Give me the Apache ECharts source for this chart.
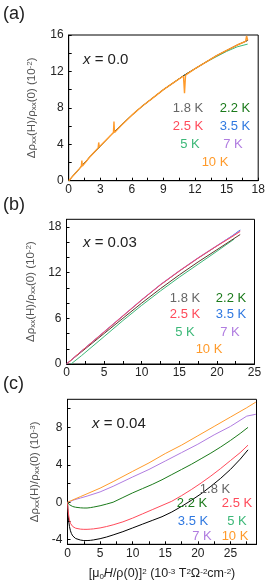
<!DOCTYPE html>
<html><head><meta charset="utf-8">
<script src="https://cdn.jsdelivr.net/npm/echarts@6/dist/echarts.min.js"></script>
<style>html,body{margin:0;padding:0;background:#fff}#c{width:268px;height:584px}</style>
</head><body><div id="c"></div>
<script>
// ---------- data ----------
const tempLabels = ['1.8 K','2.2 K','2.5 K','3.5 K','5 K','7 K','10 K'];
// panel (a) x = 0.0
const aX = [0,1,2,3,4,5,6,7,8,9,10,11,12,13,14,15,16,17];
const aY18 = [0,1.3,2.6,3.8,5.0,6.1,7.2,8.2,9.1,10.0,10.8,11.6,12.3,13.0,13.7,14.3,14.9,15.4];
const aY5  = [0,1.3,2.6,3.8,5.0,6.1,7.2,8.2,9.1,10.0,10.8,11.6,12.3,13.0,13.6,14.2,14.7,15.0];
const aX10 = [0,1,1.2,1.25,1.3,2,2.8,2.85,2.9,3,4,4.25,4.3,4.35,5,6,7,8,9,10,10.9,11.0,11.1,12,13,14,15,16,16.8,16.9,17];
const aY10 = [0,1.3,1.55,2.2,1.6,2.6,3.6,4.2,3.7,3.8,5.0,5.3,6.5,5.3,6.1,7.2,8.2,9.1,10.0,10.8,11.5,9.6,11.6,12.3,13.0,13.7,14.3,14.9,15.3,15.9,15.4];
// panel (b) x = 0.03
const bX = [0,2,5,7.5,10,12.5,15,17.5,20,22,23.1];
const bY18 = [0,1.6,4.0,6.0,8.0,9.9,11.7,13.4,15.0,16.3,17.0];
const bY25 = [0,1.7,4.2,6.3,8.4,10.4,12.2,13.9,15.5,16.7,17.4];
const bY35 = [0,1.7,4.2,6.3,8.4,10.4,12.2,13.9,15.5,16.8,17.6];
const bY7  = [0,1.7,4.25,6.35,8.45,10.45,12.25,13.95,15.55,16.8,17.5];
const bX5 = [0.6,2,5,7.5,10,12.5,15,17.5,20,22.3];
const bY5 = [0,1.1,3.6,5.7,7.7,9.6,11.4,13.1,14.8,16.4];
// panel (c) x = 0.04
const cX = [0,0.05,0.1,0.2,0.3,0.45,0.6,0.8,1,1.25,1.5,2,2.5,3,3.5,4,5,6,7,8.5,10,11.5,13,14.5,16,17.5,19,20.5,22,23.5,25,26.5,27.7];
const cY18 = [0,-0.7,-1.3,-2.1,-2.6,-3.05,-3.35,-3.6,-3.75,-3.88,-3.96,-4.05,-4.1,-4.1,-4.08,-4.03,-3.9,-3.72,-3.5,-3.15,-2.75,-2.35,-1.95,-1.55,-1.05,-0.45,0.2,0.9,1.7,2.55,3.5,4.6,5.6];
const cY25 = [0,-0.5,-0.9,-1.5,-1.9,-2.25,-2.45,-2.6,-2.7,-2.78,-2.83,-2.88,-2.9,-2.9,-2.88,-2.85,-2.75,-2.6,-2.42,-2.1,-1.7,-1.25,-0.8,-0.35,0.1,0.7,1.35,2.05,2.8,3.6,4.45,5.3,6.1];
const cY22 = [0,-0.06,-0.12,-0.2,-0.27,-0.34,-0.4,-0.46,-0.5,-0.54,-0.57,-0.6,-0.62,-0.62,-0.58,-0.52,-0.38,-0.2,0.0,0.5,1.0,1.45,1.9,2.4,2.95,3.5,4.05,4.65,5.25,5.9,6.6,7.35,8.0];
const cX2 = [0,0.5,1,2,3,5,7,10,12.5,15,17.5,20,22.5,25,27.5,28.9];
const cY7  = [0,0.1,0.25,0.45,0.65,1.1,1.7,2.7,3.5,4.4,5.3,6.2,7.2,8.1,9.2,9.4];
const cY10 = [0,0.15,0.3,0.6,0.9,1.5,2.2,3.3,4.2,5.2,6.1,7.1,8.1,9.1,10.1,10.7];

// ---------- styling ----------
const COL = {k:'#000000', g22:'#1b7a1b', r25:'#ff4a5a', b35:'#2f78e0', g5:'#3cb878', p7:'#b07ce0', o10:'#ff9a2a'};
const legendCol = ['#666666',COL.g22,COL.r25,COL.b35,COL.g5,COL.p7,COL.o10];
const FF = "'Liberation Sans', Arial, sans-serif";

function zip(xs, ys){ return xs.map((x,i)=>[x, ys[i]]); }

function xAxis(gi, min, max, labels, minors){
  return {type:'value', gridIndex:gi, min, max,
    axisLine:{onZero:false, lineStyle:{color:'#000', width:1}},
    axisTick:{inside:true, length:3, customValues: labels.concat(minors), lineStyle:{color:'#000'}},
    axisLabel:{customValues: labels, color:'#222', fontSize:12, fontFamily:FF, margin:3},
    splitLine:{show:false}};
}
function yAxis(gi, min, max, labels, minors, exp, gap){
  return {type:'value', gridIndex:gi, min, max,
    axisLine:{onZero:false, lineStyle:{color:'#000', width:1}},
    axisTick:{inside:true, length:3, customValues: labels.concat(minors), lineStyle:{color:'#000'}},
    axisLabel:{customValues: labels, color:'#222', fontSize:12, fontFamily:FF, margin:5},
    splitLine:{show:false},
    name:'Δρ{s|xx}(H)/ρ{s|xx}(0) (10{p|' + exp + '})', nameLocation:'middle', nameRotate:90, nameGap:gap,
    nameTextStyle:{color:'#555', fontSize:11.5, fontFamily:FF,
      rich:{s:{fontSize:8, color:'#555', fontFamily:FF, verticalAlign:'bottom', padding:[4,0,0,0]},
            p:{fontSize:8, color:'#555', fontFamily:FF, verticalAlign:'top', padding:[0,0,4,0]}}}};
}
function line(xi, data, color, z, w){
  return {type:'line', xAxisIndex:xi, yAxisIndex:xi, data, showSymbol:false, symbol:'none',
    lineStyle:{color, width:w||1}, smooth:false, z: z||2, animation:false};
}

const grids = [
  {left:68.7, top:35, width:189.5, height:145.7, show:true, borderColor:'#000', borderWidth:1},
  {left:66.5, top:219.3, width:188, height:144.7, show:true, borderColor:'#000', borderWidth:1},
  {left:67.5, top:399.3, width:189, height:145, show:true, borderColor:'#000', borderWidth:1}
];

const xA = [
  xAxis(0, 0, 18, [0,3,6,9,12,15,18], [1.5,4.5,7.5,10.5,13.5,16.5]),
  xAxis(1, 0, 25, [0,5,10,15,20,25], [2.5,7.5,12.5,17.5,22.5]),
  xAxis(2, 0, 29, [0,5,10,15,20,25], [2.5,7.5,12.5,17.5,22.5,27.5])
];
xA[2].name = '[μ{s|0}{i|H}/ρ(0)]{p|2} (10{p|-3} T{p|2}Ω{p|-2}cm{p|-2})';
xA[2].nameLocation = 'middle'; xA[2].nameGap = 23;
xA[2].nameTextStyle = {color:'#222', fontSize:12.5, fontFamily:FF,
  rich:{s:{fontSize:8, color:'#222', fontFamily:FF, verticalAlign:'bottom', padding:[5,0,0,0]},
        p:{fontSize:8, color:'#222', fontFamily:FF, verticalAlign:'top', padding:[0,0,5,0]},
        i:{fontSize:12.5, color:'#222', fontFamily:FF, fontStyle:'italic'}}};

const yA = [
  yAxis(0, 0, 16, [0,4,8,12,16], [2,6,10,14], '-2', 31),
  yAxis(1, 0, 19, [0,6,12,18], [2,4,8,10,14,16], '-2', 24),
  yAxis(2, -4.5, 11, [-4,0,4,8], [-2,2,6,10], '-3', 24)
];

const series = [
  line(0, zip(aX, aY5), COL.g5),
  line(0, zip(aX, aY18), COL.k),
  line(0, zip(aX10, aY10), COL.o10, 3, 1.4),
  line(1, zip(bX5, bY5), COL.g5),
  line(1, zip(bX, bY18), '#5a3a2a'),
  line(1, zip(bX, bY35), COL.b35),
  line(1, zip(bX, bY7), COL.p7),
  line(1, zip(bX, bY25), COL.r25),
  line(2, zip(cX, cY18), COL.k),
  line(2, zip(cX, cY25), COL.r25),
  line(2, zip(cX, cY22), COL.g22),
  line(2, zip(cX2, cY7), COL.p7),
  line(2, zip(cX2, cY10), COL.o10)
];

function txt(x, y, text, color, size, align, rich){
  return {type:'text', x, y, silent:true, z:10,
    style:{text, fill:color, fontSize:size, fontFamily:FF, textAlign:align||'center', textVerticalAlign:'middle', rich}};
}
const legPos = {
  a:[[188,108],[235,108],[188,126],[235,126],[190,144],[233,144],[215,162]],
  b:[[185,298],[231,298],[185,314],[231,314],[185,332],[230,332],[209,349]],
  c:[[215,489],[192,503],[237,503],[193,521],[237,521],[202,536],[235,536]]
};
const graphics = [
  txt(3, 14, '(a)', '#222', 18, 'left'),
  txt(3, 205, '(b)', '#222', 18, 'left'),
  txt(3, 384, '(c)', '#222', 18, 'left'),
  txt(83, 60, '{i|x} = 0.0', '#222', 15, 'left', {i:{fontStyle:'italic', fontSize:15, fill:'#222', fontFamily:FF}}),
  txt(83, 243, '{i|x} = 0.03', '#222', 15, 'left', {i:{fontStyle:'italic', fontSize:15, fill:'#222', fontFamily:FF}}),
  txt(92, 424, '{i|x} = 0.04', '#222', 15, 'left', {i:{fontStyle:'italic', fontSize:15, fill:'#222', fontFamily:FF}})
];
['a','b','c'].forEach(p => legPos[p].forEach((pos,i) => graphics.push(txt(pos[0], pos[1], tempLabels[i], legendCol[i], 13))));

const chart = echarts.init(document.getElementById('c'), null, {renderer:'canvas'});
chart.setOption({animation:false, backgroundColor:'#fff', grid:grids, xAxis:xA, yAxis:yA, series, graphic:graphics});
</script></body></html>
